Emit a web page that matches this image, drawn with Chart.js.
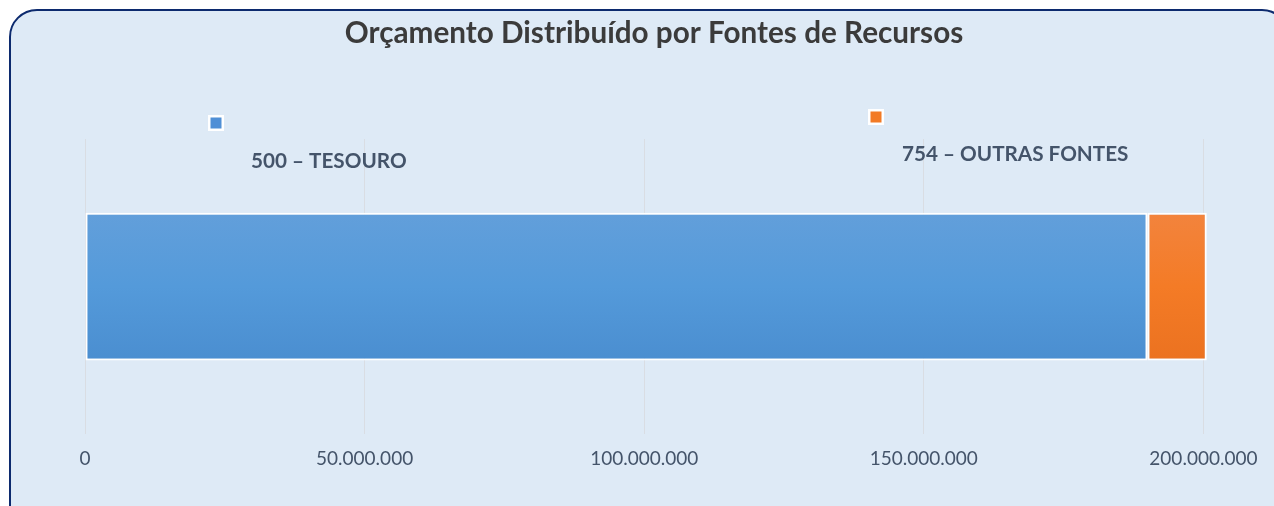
<!DOCTYPE html>
<html>
<head>
<meta charset="utf-8">
<script src="https://cdn.jsdelivr.net/npm/chart.js@4/dist/chart.umd.min.js"></script>
<style>
  html, body { margin: 0; padding: 0; width: 1274px; height: 506px; overflow: hidden; background: #ffffff; }
  #frame { position: absolute; left: 9px; top: 9px; width: 1281px; height: 540px; box-sizing: border-box;
           border: 2px solid #0c2a6e; border-radius: 28px; background: #deeaf6; }
  #wrap { position: absolute; left: 0; top: 0; width: 1274px; height: 506px; }
</style>
</head>
<body>
<div id="frame"></div>
<div id="wrap"><canvas id="c" width="1274" height="506"></canvas></div>
<script>
const titleText = 'Orçamento Distribuído por Fontes de Recursos';
const categories = ['Orçamento'];
const seriesNames = ['500 – TESOURO', '754 – OUTRAS FONTES'];
const tesouroValues = [190000000];
const outrasValues = [10600000];
const tickValues = [0, 50000000, 100000000, 150000000, 200000000];

function fmt(v) {
  return String(Math.round(v)).replace(/\B(?=(\d{3})+(?!\d))/g, '.');
}

function grad(ctx, stops) {
  const chart = ctx.chart;
  const area = chart.chartArea;
  if (!area) return stops[1];
  const meta = chart.getDatasetMeta(ctx.datasetIndex);
  const el = meta.data[ctx.dataIndex];
  let top = area.top, bottom = area.bottom;
  if (el && el.height) { top = el.y - el.height / 2; bottom = el.y + el.height / 2; }
  const g = chart.ctx.createLinearGradient(0, top, 0, bottom);
  g.addColorStop(0, stops[0]);
  g.addColorStop(0.5, stops[1]);
  g.addColorStop(1, stops[2]);
  return g;
}

const blueStops = ['#70a4db', '#549ada', '#4182c6'];
const orangeStops = ['#f18c54', '#f47b26', '#e3691a'];

const legendPlugin = {
  id: 'oddLegend',
  afterDraw(chart, args, opts) {
    const c = chart.ctx;
    const items = opts.items;
    chart.data.datasets.forEach((ds, i) => {
      const it = items[i];
      c.save();
      c.fillStyle = '#ffffff';
      c.fillRect(it.sx, it.sy, 16, 16);
      c.fillStyle = ds.legendColor;
      c.fillRect(it.sx + 2.5, it.sy + 2.5, 11, 11);
      c.fillStyle = '#44546a';
      c.font = 'bold 20.7px Lato';
      c.textBaseline = 'alphabetic';
      c.textAlign = 'left';
      c.fillText(ds.label, it.tx, it.ty);
      c.restore();
    });
  }
};

const titlePlugin = {
  id: 'offsetTitle',
  afterDraw(chart, args, opts) {
    const c = chart.ctx;
    c.save();
    c.fillStyle = '#3b3b3b';
    c.font = 'bold 29.7px Lato';
    c.textAlign = 'center';
    c.textBaseline = 'alphabetic';
    c.fillText(opts.text, (chart.chartArea.left + chart.chartArea.right) / 2 + opts.shift, opts.baseline);
    c.restore();
  }
};

new Chart(document.getElementById('c'), {
  type: 'bar',
  data: {
    labels: categories,
    datasets: [
      { label: seriesNames[0], data: tesouroValues, legendColor: '#4f8fd6',
        backgroundColor: (ctx) => grad(ctx, blueStops), borderColor: '#ffffff', borderWidth: 2, borderSkipped: false },
      { label: seriesNames[1], data: outrasValues, legendColor: '#f27a25',
        backgroundColor: (ctx) => grad(ctx, orangeStops), borderColor: '#ffffff', borderWidth: 2, borderSkipped: false }
    ]
  },
  options: {
    indexAxis: 'y',
    responsive: false,
    animation: false,
    layout: { padding: { left: 85, right: 65, top: 139, bottom: 23 } },
    datasets: { bar: { categoryPercentage: 1, barPercentage: 0.5 } },
    scales: {
      x: {
        stacked: true, min: 0, max: 201000000,
        afterBuildTicks: (axis) => { axis.ticks = tickValues.map(v => ({ value: v })); },
        grid: { color: '#d9dde3', lineWidth: 1, drawTicks: false },
        border: { display: false },
        ticks: { color: '#44546a', font: { family: 'Lato', size: 19 }, padding: 13, maxRotation: 0,
                 callback: (v) => fmt(v) }
      },
      y: { stacked: true, display: false }
    },
    plugins: {
      legend: { display: false },
      tooltip: { enabled: false },
      title: { display: false },
      offsetTitle: { text: titleText, shift: 7, baseline: 43 },
      oddLegend: { items: [ { sx: 208, sy: 115, tx: 251, ty: 168 }, { sx: 868, sy: 109, tx: 902, ty: 161 } ] }
    }
  },
  plugins: [legendPlugin, titlePlugin]
});
</script>
</body>
</html>
